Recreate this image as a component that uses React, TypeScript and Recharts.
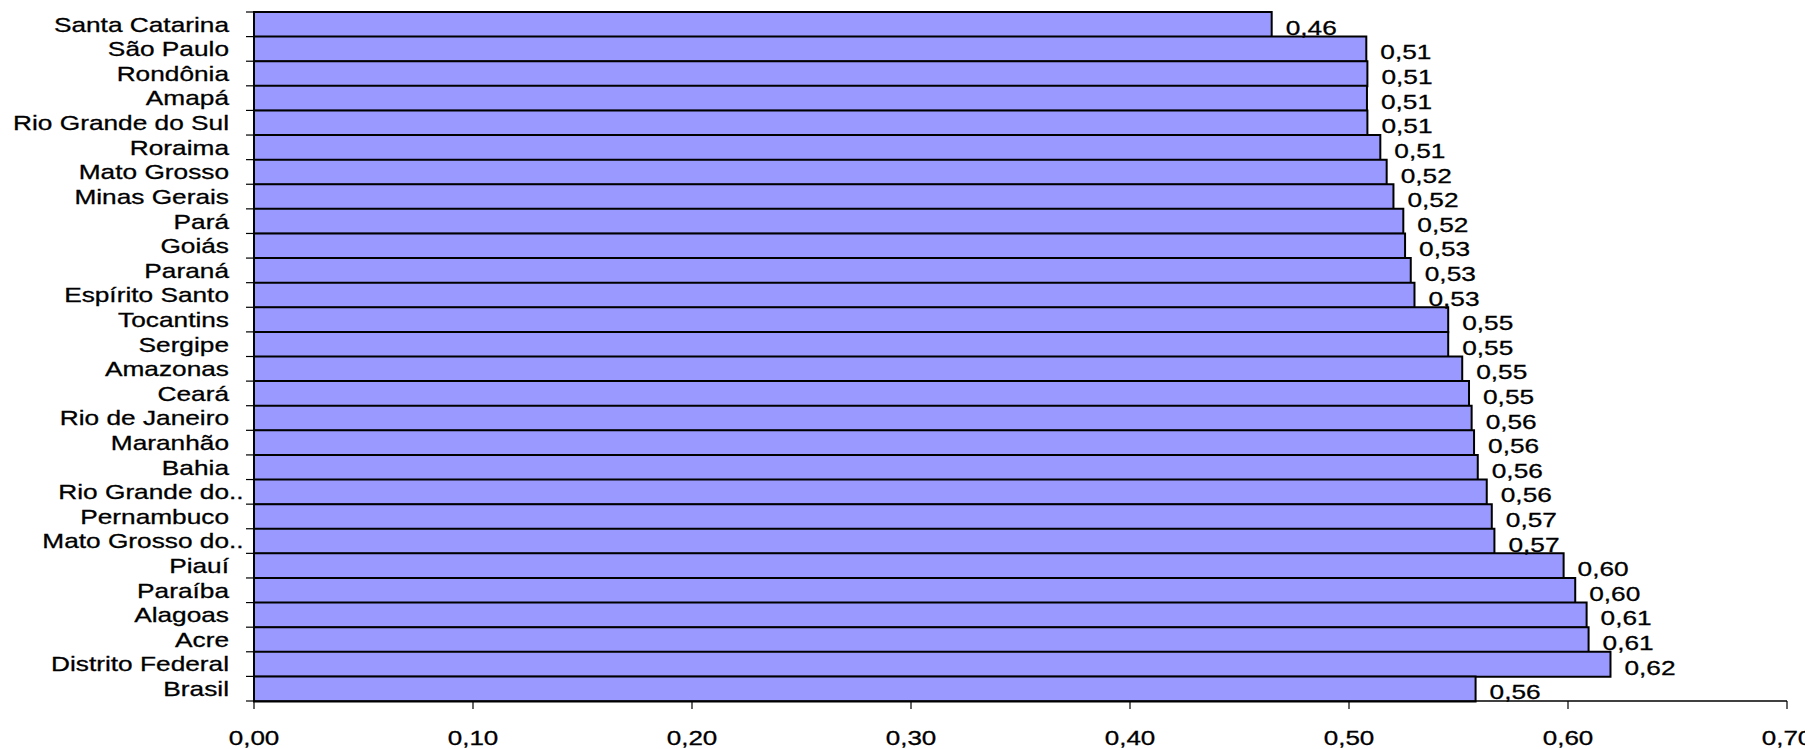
import React from 'react';
import { BarChart, Bar, XAxis, YAxis, LabelList } from 'recharts';

const categories = [
  'Santa Catarina', 'São Paulo', 'Rondônia', 'Amapá', 'Rio Grande do Sul', 'Roraima',
  'Mato Grosso', 'Minas Gerais', 'Pará', 'Goiás', 'Paraná', 'Espírito Santo',
  'Tocantins', 'Sergipe', 'Amazonas', 'Ceará', 'Rio de Janeiro', 'Maranhão',
  'Bahia', 'Rio Grande do..', 'Pernambuco', 'Mato Grosso do..', 'Piauí', 'Paraíba',
  'Alagoas', 'Acre', 'Distrito Federal', 'Brasil',
];

const values = [
  0.4647, 0.5079, 0.5084, 0.5082, 0.5084, 0.5143,
  0.5172, 0.5203, 0.5248, 0.5256, 0.5282, 0.5299,
  0.5453, 0.5453, 0.5517, 0.5548, 0.556, 0.5571,
  0.5588, 0.5629, 0.5652, 0.5664, 0.598, 0.6033,
  0.6085, 0.6094, 0.6194, 0.5578,
];

const xTicks = [0, 0.1, 0.2, 0.3, 0.4, 0.5, 0.6, 0.7];

const data = categories.map((name, i) => ({ name, value: values[i] }));

const W = 1805;
const H = 741;
const MARGIN = { top: 4, right: 26, bottom: 8, left: 46 };
const X_AXIS_H = 40;
const Y_AXIS_W = 200;
const PLOT_H = H - MARGIN.top - MARGIN.bottom - X_AXIS_H;
const BAND = PLOT_H / categories.length;
const FONT = '"Liberation Sans", Arial, sans-serif';
const FS = 21;
const SX = 1.25;
const SX_X = 1.24;
const Y_TICK_SIZE = 8;
const Y_TICK_MARGIN = 17;
const TXT_STROKE = 0.3;

const fmt = (v: number) => v.toFixed(2).replace('.', ',');

const YTick = (props: any) => {
  const { x, y, payload, index } = props;
  const axisX = x + Y_TICK_SIZE + Y_TICK_MARGIN;
  const label: string = String(payload.value);
  const trunc = label.endsWith('..');
  const main = trunc ? label.slice(0, -2) : label;
  const isLast = index === categories.length - 1;
  return (
    <g>
      <line x1={axisX - Y_TICK_SIZE} x2={axisX} y1={y - BAND / 2} y2={y - BAND / 2} stroke="#000" strokeWidth={1.2} />
      {isLast && (
        <line x1={axisX - Y_TICK_SIZE} x2={axisX} y1={y + BAND / 2} y2={y + BAND / 2} stroke="#000" strokeWidth={1.2} />
      )}
      <g transform={`translate(${x},${y}) scale(${SX},1)`}>
        <text x={0} y={0} dy="0.35em" textAnchor="end" fontFamily={FONT} fontSize={FS} fill="#000" stroke="#000" strokeWidth={TXT_STROKE}>
          {main}
        </text>
        {trunc && (
          <text x={0} y={0} dy="0.35em" textAnchor="start" fontFamily={FONT} fontSize={FS} fill="#000" stroke="#000" strokeWidth={TXT_STROKE}>
            ..
          </text>
        )}
      </g>
    </g>
  );
};

const XTick = (props: any) => {
  const { x, y, payload } = props;
  return (
    <g transform={`translate(${x},${y}) scale(${SX_X},1)`}>
      <text x={0} y={0} dy="0.71em" textAnchor="middle" fontFamily={FONT} fontSize={FS} fill="#000" stroke="#000" strokeWidth={TXT_STROKE}>
        {fmt(Number(payload.value))}
      </text>
    </g>
  );
};

const ValueLabel = (props: any) => {
  const { x, y, width, height, value } = props;
  const tx = Number(x) + Number(width) + 14;
  const ty = Number(y) + Number(height) / 2 + 3;
  return (
    <g transform={`translate(${tx},${ty}) scale(${SX},1)`}>
      <text x={0} y={0} dy="0.35em" textAnchor="start" fontFamily={FONT} fontSize={FS} fill="#000" stroke="#000" strokeWidth={TXT_STROKE}>
        {fmt(Number(value))}
      </text>
    </g>
  );
};

export default function App() {
  return (
    <div style={{ width: W, height: H, background: '#fff' }}>
      <style>{'html, body { overflow: hidden; }'}</style>
      <BarChart
        width={W}
        height={H}
        data={data}
        layout="vertical"
        margin={MARGIN}
        barCategoryGap={0}
        barGap={0}
      >
        <XAxis
          type="number"
          domain={[0, 0.7]}
          ticks={xTicks}
          interval={0}
          height={X_AXIS_H}
          axisLine={{ stroke: '#000', strokeWidth: 1.3 }}
          tickLine={{ stroke: '#000', strokeWidth: 1.2 }}
          tickSize={8}
          tickMargin={21}
          tick={<XTick />}
        />
        <YAxis
          type="category"
          dataKey="name"
          width={Y_AXIS_W}
          interval={0}
          axisLine={{ stroke: '#000', strokeWidth: 1.3 }}
          tickLine={false}
          tickSize={Y_TICK_SIZE}
          tickMargin={Y_TICK_MARGIN}
          tick={<YTick />}
        />
        <Bar dataKey="value" fill="#9999FF" stroke="#000" strokeWidth={2} isAnimationActive={false}>
          <LabelList dataKey="value" content={<ValueLabel />} />
        </Bar>
      </BarChart>
    </div>
  );
}
